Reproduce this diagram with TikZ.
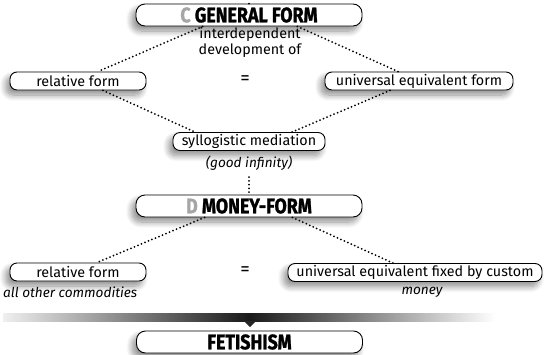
\documentclass[tikz,border=0pt]{standalone}
\usepackage{fontspec}
\setmainfont{Fira Sans}
\newfontfamily\headfont[FakeStretch=0.85,FakeBold=1.2]{Fira Sans}
\usepackage{xcolor}
\usepackage{tikz}
\usetikzlibrary{calc}
\usetikzlibrary{shadows,shadows.blur}

\tikzset{
  pill/.style={draw, line width=0.9pt, rounded corners=7pt, fill=white,
    minimum height=18pt, inner sep=0pt,
    blur shadow={shadow xshift=-4pt, shadow yshift=-5pt, shadow opacity=45, shadow blur steps=10, shadow blur radius=6pt},
    font=\fontsize{14.3}{16}\selectfont},
  headbox/.style={pill, rounded corners=9pt, minimum height=22pt, minimum width=226pt,
    font=\headfont\bfseries\fontsize{21}{22}\selectfont},
  dots/.style={line width=2pt, line cap=round, dash pattern=on 0pt off 3.8pt},
  note/.style={font=\fontsize{14.3}{16}\selectfont, align=center, inner sep=0pt},
  italnote/.style={note, font=\itshape\fontsize{13.6}{16}\selectfont},
  eqsign/.style={note, font=\fontsize{19}{20}\selectfont},
}

\begin{document}
\begin{tikzpicture}[x=1pt,y=-1pt]
       \useasboundingbox (0,0) rectangle (549,354);
       %C GENERAL FORM
       \node[headbox] (cform) at (249,15) {\textcolor{gray!70}{C} GENERAL FORM};
       \coordinate (ctop) at (249,0);
       \draw[dots] (cform.north) -- (ctop);
       \node[note] (interdep) at (250,42) {interdependent\\development of};
       %UPPER ROW
       \node[pill, minimum width=136pt] (relA) at (78,81) {relative form};
       \node[eqsign] (eqA) at (245,80) {=};
       \node[pill, minimum width=188pt] (uniA) at (419,81) {universal equivalent form};
       %MEDIATION
       \node[pill, minimum width=152pt] (syl) at (249,141.5) {syllogistic mediation};
       \node[italnote] (goodinf) at (249,163) {(good infinity)};
       \coordinate (vtop) at (249,177);
       %LINKS C
       \draw[dots] ([xshift=67pt]cform.south west) -- ([xshift=20pt]relA.north);
       \draw[dots] ([xshift=-65pt]cform.south east) -- ([xshift=-21pt]uniA.north);
       \draw[dots] ([xshift=25pt]relA.south) -- ([xshift=-54pt]syl.north);
       \draw[dots] ([xshift=-29pt]uniA.south) -- ([xshift=43pt]syl.north);
       %D MONEY-FORM
       \node[headbox] (dform) at (249,206) {\textcolor{gray!70}{D} MONEY-FORM};
       \draw[dots] (vtop) -- (dform.north);
       %LOWER ROW
       \node[pill, minimum width=136pt] (relB) at (78,272) {relative form};
       \node[italnote, anchor=west] (allother) at (3,292) {all other commodities};
       \node[eqsign] (eqB) at (245,271) {=};
       \node[pill, minimum width=254pt] (uniB) at (415,272.5) {universal equivalent fixed by custom};
       \node[italnote] (money) at (422,292) {money};
       %LINKS D
       \draw[dots] ([xshift=69pt]dform.south west) -- ([xshift=19pt]relB.north);
       \draw[dots] ([xshift=-70pt]dform.south east) -- ([xshift=-22pt]uniB.north);
       %BAR
       \shade[left color=gray!12, right color=black!90] (3,313) rectangle (249,321);
       \shade[left color=black!90, right color=white] (249,313) rectangle (495,321);
       \fill[black!85] (244,321) -- (256,321) -- (250,327) -- cycle;
       %FETISHISM
       \node[headbox] (fetish) at (249.5,342) {FETISHISM};
\end{tikzpicture}
\end{document}
